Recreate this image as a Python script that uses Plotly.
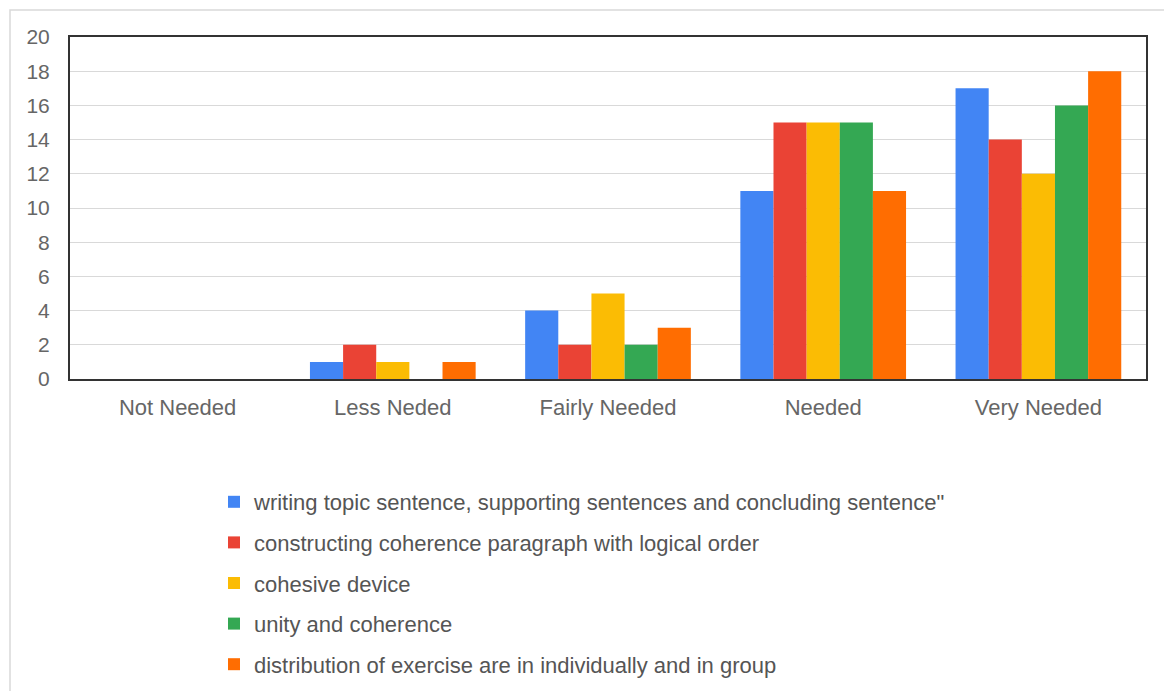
import plotly.graph_objects as go

categories = ["Not Needed", "Less Neded", "Fairly Needed", "Needed", "Very Needed"]
series_names = [
    "writing topic sentence, supporting sentences and concluding sentence\"",
    "constructing coherence paragraph with logical order",
    "cohesive device",
    "unity and coherence",
    "distribution of exercise are in individually and in group",
]
writing_topic = [0, 1, 4, 11, 17]
constructing = [0, 2, 2, 15, 14]
cohesive = [0, 1, 5, 15, 12]
unity = [0, 0, 2, 15, 16]
distribution = [0, 1, 3, 11, 18]
colors = ["#4285F4", "#EA4335", "#FBBC04", "#34A853", "#FF6D01"]

values = [writing_topic, constructing, cohesive, unity, distribution]

fig = go.Figure()
for i, (name, vals, c) in enumerate(zip(series_names, values, colors)):
    fig.add_trace(go.Bar(x=categories, y=vals, name=name, marker_color=c,
                         marker_line_width=0, legendgroup=f"g{i}"))

W, H = 1164, 691
L, R, T, B = 70, 18, 37, 312
pw, ph = W - L - R, H - T - B

def px_x(p):
    return (p - L) / pw

def px_y(p):
    return (H - B - p) / ph

fig.update_layout(
    width=W, height=H,
    margin=dict(l=L, r=R, t=T, b=B, autoexpand=False),
    paper_bgcolor="white", plot_bgcolor="white",
    barmode="group", bargap=0.23, bargroupgap=0,
    font=dict(family="Liberation Sans, Arial, sans-serif", color="#666666", size=22),
    showlegend=True,
    legend=dict(
        orientation="v", x=px_x(214), y=px_y(481), xanchor="left", yanchor="top",
        font=dict(size=22, color="#555555"), traceorder="grouped", tracegroupgap=9,
        itemwidth=30, bgcolor="rgba(0,0,0,0)",
    ),
    xaxis=dict(showgrid=False, showline=True, mirror=True, linecolor="#333333",
               linewidth=2, ticks="", ticklabelstandoff=8,
               tickfont=dict(size=22, color="#666666")),
    yaxis=dict(range=[0, 20], dtick=2, showgrid=True, gridcolor="#d9d9d9", gridwidth=1,
               showline=True, mirror=True, linecolor="#333333", linewidth=2,
               ticks="", zeroline=False, ticklabelstandoff=14,
               tickfont=dict(size=21, color="#666666")),
    shapes=[dict(type="rect", xref="paper", yref="paper",
                 x0=px_x(10), x1=px_x(1175), y0=px_y(710), y1=px_y(10),
                 line=dict(color="#d9d9d9", width=1.5), layer="below")],
)

fig.write_html("out.html")
